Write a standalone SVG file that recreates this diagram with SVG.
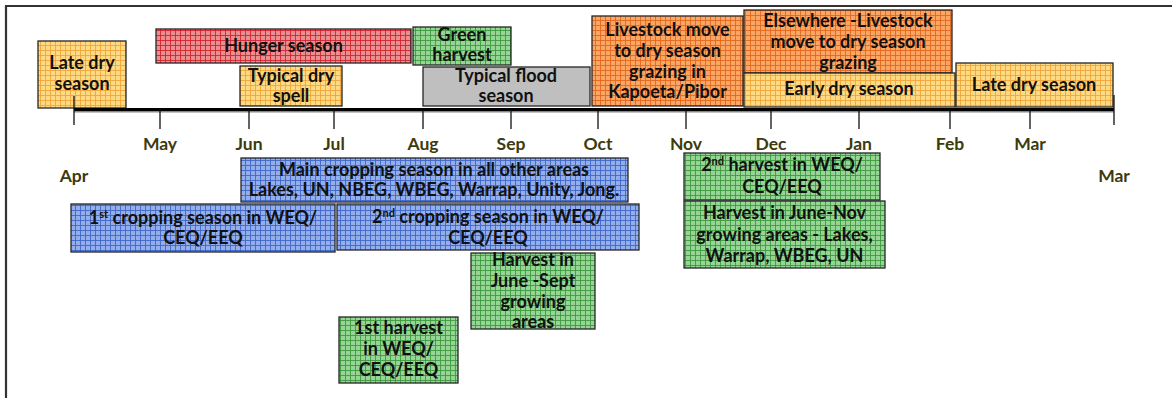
<svg xmlns="http://www.w3.org/2000/svg" width="1172" height="398" viewBox="0 0 1172 398">
<style>
.box{stroke:#262626;stroke-width:1.3}
.t{font-family:Lato,"Liberation Sans",sans-serif;font-weight:bold;font-size:18px;fill:#111;text-anchor:middle}
.m{font-family:Lato,"Liberation Sans",sans-serif;font-weight:bold;font-size:17.5px;fill:#3D3A0C;text-anchor:middle}
.tick{stroke:#111;stroke-width:1.3}
.sup{font-size:11px}
</style>
<defs>
<pattern id="pY" width="5" height="5" patternUnits="userSpaceOnUse"><rect width="5" height="5" fill="#FFDA84"/><path d="M0 0.5H5M0.5 0V5" stroke="#F0A63A" stroke-width="0.9"/></pattern>
<pattern id="pR" width="5" height="5" patternUnits="userSpaceOnUse"><rect width="5" height="5" fill="#EA8F91"/><path d="M0 0.5H5M0.5 0V5" stroke="#D4242C" stroke-width="0.9"/></pattern>
<pattern id="pG" width="5" height="5" patternUnits="userSpaceOnUse"><rect width="5" height="5" fill="#97D597"/><path d="M0 0.5H5M0.5 0V5" stroke="#3E9A3E" stroke-width="0.9"/></pattern>
<pattern id="pB" width="5" height="5" patternUnits="userSpaceOnUse"><rect width="5" height="5" fill="#93AEEA"/><path d="M0 0.5H5M0.5 0V5" stroke="#3F66C8" stroke-width="0.9"/></pattern>
<pattern id="pO" width="5" height="5" patternUnits="userSpaceOnUse"><rect width="5" height="5" fill="#FBA665"/><path d="M0 0.5H5M0.5 0V5" stroke="#E2681E" stroke-width="0.9"/></pattern>
</defs>
<rect width="1172" height="398" fill="#fff"/>
<path d="M6 398V6H1172" fill="none" stroke="#333" stroke-width="2.2"/>

<g id="late-dry-1"><rect class="box" x="38" y="41" width="88" height="67" fill="url(#pY)"/><text class="t"><tspan x="82" y="69">Late dry</tspan><tspan x="82" y="90">season</tspan></text></g>
<g id="hunger"><rect class="box" x="156" y="29" width="255" height="34" fill="url(#pR)"/><text class="t" x="283.5" y="52">Hunger season</text></g>
<g id="dry-spell"><rect class="box" x="240" y="66" width="102" height="40" fill="url(#pY)"/><text class="t"><tspan x="291" y="82">Typical dry</tspan><tspan x="291" y="102">spell</tspan></text></g>
<g id="green-harvest"><rect class="box" x="413" y="27" width="98" height="38" fill="url(#pG)"/><text class="t"><tspan x="462" y="41">Green</tspan><tspan x="462" y="61">harvest</tspan></text></g>
<g id="flood"><rect class="box" x="423" y="67" width="167" height="39" fill="#BFBFBF"/><text class="t"><tspan x="506" y="82">Typical flood</tspan><tspan x="506" y="102">season</tspan></text></g>
<g id="livestock-kp"><rect class="box" x="592" y="16" width="151" height="90" fill="url(#pO)"/><text class="t"><tspan x="667.5" y="36">Livestock move</tspan><tspan x="667.5" y="57">to dry season</tspan><tspan x="667.5" y="78">grazing in</tspan><tspan x="667.5" y="98">Kapoeta/Pibor</tspan></text></g>
<g id="elsewhere"><rect class="box" x="744" y="10" width="208" height="63" fill="url(#pO)"/><text class="t"><tspan x="848" y="27">Elsewhere -Livestock</tspan><tspan x="848" y="48">move to dry season</tspan><tspan x="848" y="69">grazing</tspan></text></g>
<g id="early-dry"><rect class="box" x="744" y="73" width="211" height="34" fill="url(#pY)"/><text class="t" x="849" y="95">Early dry season</text></g>
<g id="late-dry-2"><rect class="box" x="956" y="63" width="157" height="44" fill="url(#pY)"/><text class="t" x="1034" y="91">Late dry season</text></g>
<g id="main-crop"><rect class="box" x="241" y="158" width="387" height="44" fill="url(#pB)"/><text class="t"><tspan x="434" y="176">Main cropping season in all other areas</tspan><tspan x="434" y="196">Lakes, UN, NBEG, WBEG, Warrap, Unity, Jong.</tspan></text></g>
<g id="crop1"><rect class="box" x="71" y="204" width="264" height="48" fill="url(#pB)"/><text class="t"><tspan x="203" y="224">1<tspan class="sup" baseline-shift="super">st</tspan> cropping season in WEQ/</tspan><tspan x="203" y="244">CEQ/EEQ</tspan></text></g>
<g id="crop2"><rect class="box" x="337" y="204" width="302" height="46" fill="url(#pB)"/><text class="t"><tspan x="488" y="223">2<tspan class="sup" baseline-shift="super">nd</tspan> cropping season in WEQ/</tspan><tspan x="488" y="244">CEQ/EEQ</tspan></text></g>
<g id="harvest-jun-sep"><rect class="box" x="471" y="253" width="124" height="76" fill="url(#pG)"/><text class="t"><tspan x="533" y="266">Harvest in</tspan><tspan x="533" y="287">June -Sept</tspan><tspan x="533" y="308">growing</tspan><tspan x="533" y="328">areas</tspan></text></g>
<g id="harvest1"><rect class="box" x="339" y="317" width="119" height="66" fill="url(#pG)"/><text class="t"><tspan x="398.5" y="334">1st harvest</tspan><tspan x="398.5" y="355">in WEQ/</tspan><tspan x="398.5" y="376">CEQ/EEQ</tspan></text></g>
<g id="harvest2"><rect class="box" x="684" y="153" width="196" height="47" fill="url(#pG)"/><text class="t"><tspan x="782" y="171">2<tspan class="sup" baseline-shift="super">nd</tspan> harvest in WEQ/</tspan><tspan x="782" y="193">CEQ/EEQ</tspan></text></g>
<g id="harvest-jun-nov"><rect class="box" x="684" y="201" width="201" height="67" fill="url(#pG)"/><text class="t"><tspan x="784.5" y="219">Harvest in June-Nov</tspan><tspan x="784.5" y="241">growing areas - Lakes,</tspan><tspan x="784.5" y="262">Warrap, WBEG, UN</tspan></text></g>

<g id="timeline">
<line x1="74" y1="111.5" x2="1114" y2="111.5" stroke="#888" stroke-width="2"/>
<line x1="74" y1="109.5" x2="1114" y2="109.5" stroke="#000" stroke-width="3"/>
<path class="tick" d="M74 96V125M160 110V129M249 110V129M334 110V129M423 110V129M511 110V129M598 110V129M686 110V129M771 110V129M859 110V129M950 110V129M1030 110V129M1114 95V125"/>
</g>
<g id="months">
<text class="m" x="74" y="182">Apr</text>
<text class="m" x="160" y="150">May</text>
<text class="m" x="249" y="150">Jun</text>
<text class="m" x="334" y="150">Jul</text>
<text class="m" x="423" y="150">Aug</text>
<text class="m" x="511" y="150">Sep</text>
<text class="m" x="598" y="150">Oct</text>
<text class="m" x="686" y="150">Nov</text>
<text class="m" x="771" y="150">Dec</text>
<text class="m" x="859" y="150">Jan</text>
<text class="m" x="950" y="150">Feb</text>
<text class="m" x="1030" y="150">Mar</text>
<text class="m" x="1114" y="182">Mar</text>
</g>
</svg>
